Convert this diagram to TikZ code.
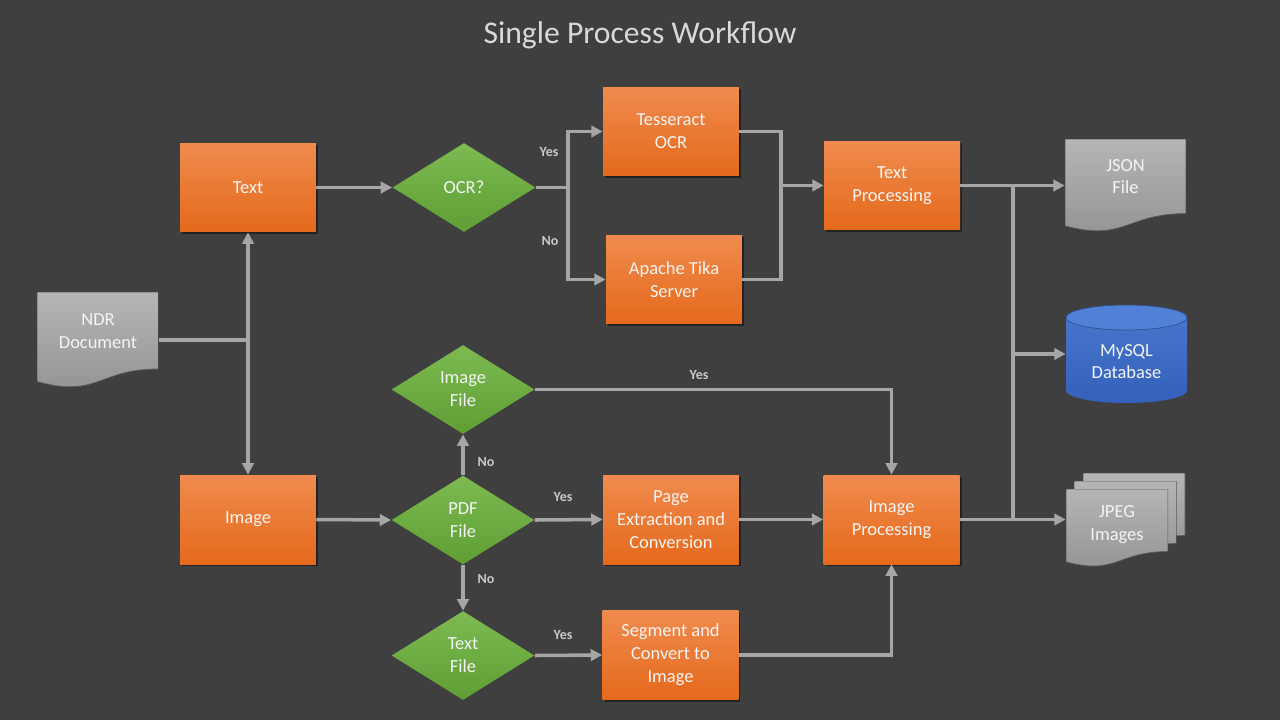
\documentclass[tikz,border=0pt]{standalone}
\usepackage{fontspec}
\setmainfont{Carlito}
\usetikzlibrary{arrows.meta,shapes.geometric,calc,shadows}

\definecolor{bgGray}{HTML}{3F3F3F}
\definecolor{titleGray}{HTML}{D9D9D9}
\definecolor{boxText}{HTML}{F4F4F4}
\definecolor{orTop}{HTML}{F08B4E}
\definecolor{orBot}{HTML}{E4691B}
\definecolor{grTop}{HTML}{7DBB52}
\definecolor{grBot}{HTML}{5E9E34}
\definecolor{docTop}{HTML}{B5B5B5}
\definecolor{docBot}{HTML}{929292}
\definecolor{docLine}{HTML}{5A5A5A}
\definecolor{dbTop}{HTML}{4A78CC}
\definecolor{dbBot}{HTML}{3361BB}
\definecolor{dbCap}{HTML}{5181D6}
\definecolor{dbLine}{HTML}{2F528F}
\definecolor{linkGray}{HTML}{A6A6A6}
\definecolor{labelGray}{HTML}{C8C8C8}

\tikzset{
  boxfont/.style={font=\fontsize{10.5}{13}\selectfont},
  procbox/.style={rectangle, minimum width=2.72cm, minimum height=1.78cm,
    inner sep=1pt, align=center, text=boxText, boxfont,
    top color=orTop, bottom color=orBot,
    drop shadow={shadow xshift=0.04cm, shadow yshift=-0.04cm, opacity=0.45, fill=black}},
  decision/.style={diamond, aspect=1.6, minimum width=2.86cm, minimum height=1.78cm,
    inner sep=0pt, align=center, text=boxText, boxfont,
    top color=grTop, bottom color=grBot},
  doctext/.style={align=center, text=boxText, boxfont},
  docbox/.style={rectangle, minimum width=2.42cm, inner sep=0pt, path picture={
    \shadedraw[top color=docTop, bottom color=docBot, draw=docLine, line width=0.4pt]
      (path picture bounding box.north west) -- (path picture bounding box.north east)
      -- ($(path picture bounding box.north east)!0.802!(path picture bounding box.south east)$)
      .. controls ($(path picture bounding box.north)!0.802!(path picture bounding box.south)$)
      and ($(path picture bounding box.north)!1.107!(path picture bounding box.south)$)
      .. ($(path picture bounding box.north west)!0.934!(path picture bounding box.south west)$)
      -- cycle;}},
  dbcyl/.style={rectangle, minimum width=2.42cm, minimum height=1.96cm, inner sep=0pt, path picture={
    \shade[top color=dbTop, bottom color=dbBot]
      ($(path picture bounding box.north west)+(0pt,-0.25cm)$)
      -- ($(path picture bounding box.south west)+(0pt,0.25cm)$)
      arc[start angle=180, end angle=360, x radius=1.21cm, y radius=0.25cm]
      -- ($(path picture bounding box.north east)+(0pt,-0.25cm)$) -- cycle;
    \filldraw[fill=dbCap, draw=dbLine, line width=0.4pt]
      ($(path picture bounding box.north)+(0pt,-0.25cm)$) ellipse [x radius=1.21cm, y radius=0.25cm];}},
  link/.style={draw=linkGray, line width=2pt},
  arrowlink/.style={link, -{Triangle[length=6.5pt, width=6.5pt]}},
  yesno/.style={text=labelGray, font=\fontsize{8}{10}\selectfont\bfseries}
}

\begin{document}
\begin{tikzpicture}[x=0.02cm, y=-0.02cm]
\fill[bgGray] (0,0) rectangle (1280,720);
\useasboundingbox (0,0) rectangle (1280,720);

% Title
\node[text=titleGray, font=\fontsize{18}{22}\selectfont] (title) at (640,35) {Single Process Workflow};

% Input document
\node[docbox, minimum height=1.92cm,
  label={[doctext, yshift=0.18cm]center:NDR\\Document}] (ndr) at (98,340) {};

% Text branch
\node[procbox] (txt) at (248,187.5) {Text};
\node[decision] (ocr) at (464,187.5) {OCR?};
\node[procbox] (tess) at (671,131.5) {Tesseract\\OCR};
\node[procbox] (tika) at (674,279.5) {Apache Tika\\Server};
\node[procbox] (txtproc) at (892,185.5) {Text\\Processing};

% Image branch
\node[procbox] (img) at (248,519.5) {Image};
\node[decision] (pdf) at (463,520) {PDF\\File};
\node[decision] (imgfile) at (463,389.5) {Image\\File};
\node[decision] (txtfile) at (463,655.5) {Text\\File};
\node[procbox] (pagex) at (671,519.5) {Page\\Extraction and\\Conversion};
\node[procbox] (segm) at (670.5,655) {Segment and\\Convert to\\Image};
\node[procbox] (imgproc) at (891.5,519.5) {Image\\Processing};

% Outputs
\node[docbox, minimum height=1.86cm,
  label={[doctext, yshift=0.18cm]center:JSON\\File}] (json) at (1125.5,185.5) {};
\node[dbcyl, label={[doctext, yshift=-0.15cm]center:MySQL\\Database}] (db) at (1126.5,354) {};
\node[docbox, minimum width=2.04cm, minimum height=1.56cm] (jpegback) at (1134,512) {};
\node[docbox, minimum width=2.04cm, minimum height=1.56cm] (jpegmid) at (1125.5,520) {};
\node[docbox, minimum width=2.04cm, minimum height=1.56cm,
  label={[doctext, yshift=0.06cm]center:JPEG\\Images}] (jpeg) at (1117,528) {};

% Drawing split NDR Document
\coordinate (split) at (txt.south |- ndr.east);
\draw[link] (ndr.east) -- (split);
\draw[arrowlink] (split) -- (txt.south);
\draw[arrowlink] (split) -- (img.north);

% Drawing OCR branch
\draw[arrowlink] (txt.east) -- (ocr.west);
\coordinate (ocrsplit) at (568,187.5);
\draw[link] (ocr.east) -- (ocrsplit);
\draw[arrowlink] (ocrsplit) |- (tess.west);
\draw[arrowlink] (ocrsplit) |- (tika.west);
\node[yesno] (ocryes) at (549,152) {Yes};
\node[yesno] (ocrno) at (550,241) {No};

% Drawing merge into Text Processing
\coordinate (merge) at (781,185.5);
\draw[link] (tess.east) -| (merge);
\draw[link] (tika.east) -| (merge);
\draw[arrowlink] (merge) -- (txtproc.west);

% Drawing outputs
\coordinate (outtop) at (1013,185.5);
\coordinate (outbot) at (1013,519.5);
\draw[arrowlink] (txtproc.east) -- (json.west);
\draw[link] (outtop) -- (outbot);
\draw[arrowlink] (outtop |- db.west) -- (db.west);
\draw[arrowlink] (imgproc.east) -- (imgproc.east -| jpeg.west);

% Drawing image branch
\draw[arrowlink] (img.east) -- (pdf.west);
\draw[arrowlink] (pdf.north) -- (imgfile.south);
\draw[arrowlink] (pdf.south) -- (txtfile.north);
\draw[arrowlink] (pdf.east) -- (pagex.west);
\draw[arrowlink] (txtfile.east) -- (segm.west);
\draw[arrowlink] (pagex.east) -- (imgproc.west);
\draw[arrowlink] (imgfile.east) -| (imgproc.north);
\draw[arrowlink] (segm.east) -| (imgproc.south);
\node[yesno] (imgyes) at (699,375) {Yes};
\node[yesno] (pdfnoup) at (486,462) {No};
\node[yesno] (pdfyes) at (563,497) {Yes};
\node[yesno] (pdfnodown) at (486,579) {No};
\node[yesno] (txtyes) at (563,635) {Yes};
\end{tikzpicture}
\end{document}
